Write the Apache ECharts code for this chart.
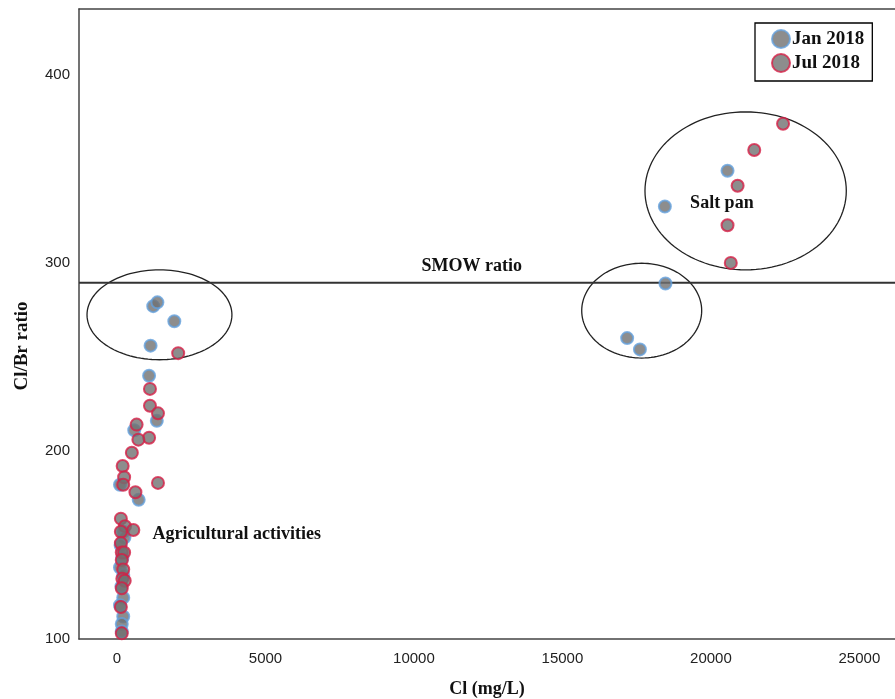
<!DOCTYPE html>
<html><head><meta charset="utf-8">
<script src="https://cdn.jsdelivr.net/npm/echarts@6/dist/echarts.min.js"></script>
<style>html,body{margin:0;padding:0;background:#fff}#c{width:895px;height:699px}</style>
</head><body><div id="c"></div>
<script>
// ---- data ----
const janData = [
  [20560, 349], [18450, 330], [18470, 289], [17180, 260], [17610, 254],
  [1220, 277], [1360, 279], [1930, 269], [1130, 256], [1080, 240],
  [1340, 216], [580, 211], [730, 174], [100, 182], [210, 157],
  [250, 154], [120, 150], [180, 143], [100, 138], [210, 134],
  [150, 128], [210, 122], [100, 118], [210, 112], [160, 108], [160, 104]
];
const julData = [
  [22430, 374], [21460, 360], [20900, 341], [20560, 320], [20670, 300],
  [2060, 252], [1110, 233], [1110, 224], [1380, 220], [660, 214],
  [1080, 207], [720, 206], [500, 199], [190, 192], [240, 186],
  [210, 182], [1380, 183], [620, 178], [130, 164], [270, 160],
  [550, 158], [130, 157], [130, 151], [160, 146], [240, 146],
  [160, 142], [210, 137], [180, 132], [260, 131], [160, 127],
  [130, 117], [160, 103]
];
const seriesNames = ['Jan 2018', 'Jul 2018'];
const xTickLabels = [0, 5000, 10000, 15000, 20000, 25000];
const yTickLabels = [100, 200, 300, 400];
const xAxisMin = -1280, xAxisMax = 26200;
const yAxisMin = 100, yAxisMax = 435;
const smowRatio = 289.4;
// ellipse annotations: [centerX, centerY, radiusX, radiusY] in data units
const ellipses = [
  [1430, 272.4, 2440, 23.9],
  [17670, 274.6, 2020, 25.2],
  [21170, 338.3, 3390, 42.0]
];
// text annotations: [text, x, y]
const annotations = [
  ['SMOW ratio', 11950, 298],
  ['Salt pan', 20370, 331.8],
  ['Agricultural activities', 4030, 155.7]
];

// ---- chart ----
const serif = '"Liberation Serif", "Times New Roman", serif';
const sans = '"Liberation Sans", Arial, sans-serif';
const chart = echarts.init(document.getElementById('c'));
const markerBase = { color: '#707070', borderWidth: 2 };

chart.setOption({
  animation: false,
  backgroundColor: '#fff',
  grid: { left: 79, right: 0, top: 9, bottom: 60, containLabel: false, outerBoundsMode: 'none' },
  legend: {
    data: seriesNames,
    orient: 'vertical',
    left: 755, top: 23,
    padding: [6, 8, 8, 16],
    itemWidth: 18, itemHeight: 18, itemGap: 4,
    borderColor: '#000', borderWidth: 1.3,
    icon: 'circle',
    textStyle: { fontFamily: serif, fontWeight: 'bold', fontSize: 19, color: '#111', padding: [0, 0, 0, -3] }
  },
  xAxis: [{
    type: 'value', min: xAxisMin, max: xAxisMax,
    name: 'Cl (mg/L)', nameLocation: 'middle', nameGap: 41,
    nameTextStyle: { fontFamily: serif, fontWeight: 'bold', fontSize: 18, color: '#111' },
    axisLine: { show: true, onZero: false, lineStyle: { color: '#444', width: 1.5 } },
    axisTick: { show: false },
    splitLine: { show: false },
    axisLabel: { customValues: xTickLabels, formatter: v => String(v), margin: 12, fontFamily: sans, fontSize: 15, color: '#222' }
  }, {
    type: 'value', position: 'top', min: xAxisMin, max: xAxisMax,
    axisLine: { show: true, onZero: false, lineStyle: { color: '#444', width: 1.5 } },
    axisTick: { show: false }, axisLabel: { show: false }, splitLine: { show: false }
  }],
  yAxis: {
    type: 'value', min: yAxisMin, max: yAxisMax, interval: 100,
    name: 'Cl/Br ratio', nameLocation: 'middle', nameGap: 47,
    nameTextStyle: { fontFamily: serif, fontWeight: 'bold', fontSize: 19, color: '#111', padding: [0, 44, 0, 0] },
    axisLine: { show: true, onZero: false, lineStyle: { color: '#444', width: 1.5 } },
    axisTick: { show: false },
    splitLine: { show: false },
    axisLabel: { customValues: yTickLabels, formatter: v => String(v), margin: 9, fontFamily: sans, fontSize: 15, color: '#222' }
  },
  series: [
    {
      name: 'SMOW', type: 'line', silent: true, symbol: 'none',
      data: [[xAxisMin, smowRatio], [xAxisMax, smowRatio]],
      lineStyle: { color: '#333', width: 2 }, z: 1
    },
    {
      name: 'ellipses', type: 'custom', silent: true, z: 1,
      data: ellipses,
      renderItem: function (params, api) {
        const cx = api.value(0), cy = api.value(1), rx = api.value(2), ry = api.value(3);
        const pts = [];
        for (let i = 0; i < 120; i++) {
          const a = (i / 120) * Math.PI * 2;
          pts.push(api.coord([cx + rx * Math.cos(a), cy + ry * Math.sin(a)]));
        }
        return { type: 'polygon', shape: { points: pts }, style: { fill: null, stroke: '#222', lineWidth: 1.3 } };
      }
    },
    {
      name: 'labels', type: 'custom', silent: true, z: 5,
      data: annotations.map(a => [a[1], a[2], a[0]]),
      renderItem: function (params, api) {
        const p = api.coord([api.value(0), api.value(1)]);
        return { type: 'text', style: { text: annotations[params.dataIndex][0], x: p[0], y: p[1],
          align: 'center', verticalAlign: 'middle', font: 'bold 18px ' + serif, fill: '#111' } };
      }
    },
    {
      name: seriesNames[0], type: 'scatter', symbol: 'circle', symbolSize: 12, z: 3,
      data: janData,
      itemStyle: Object.assign({}, markerBase, { borderColor: '#64a0dc' })
    },
    {
      name: seriesNames[1], type: 'scatter', symbol: 'circle', symbolSize: 12, z: 4,
      data: julData,
      itemStyle: Object.assign({}, markerBase, { borderColor: '#d51f46' })
    }
  ]
});
</script>
</body></html>
